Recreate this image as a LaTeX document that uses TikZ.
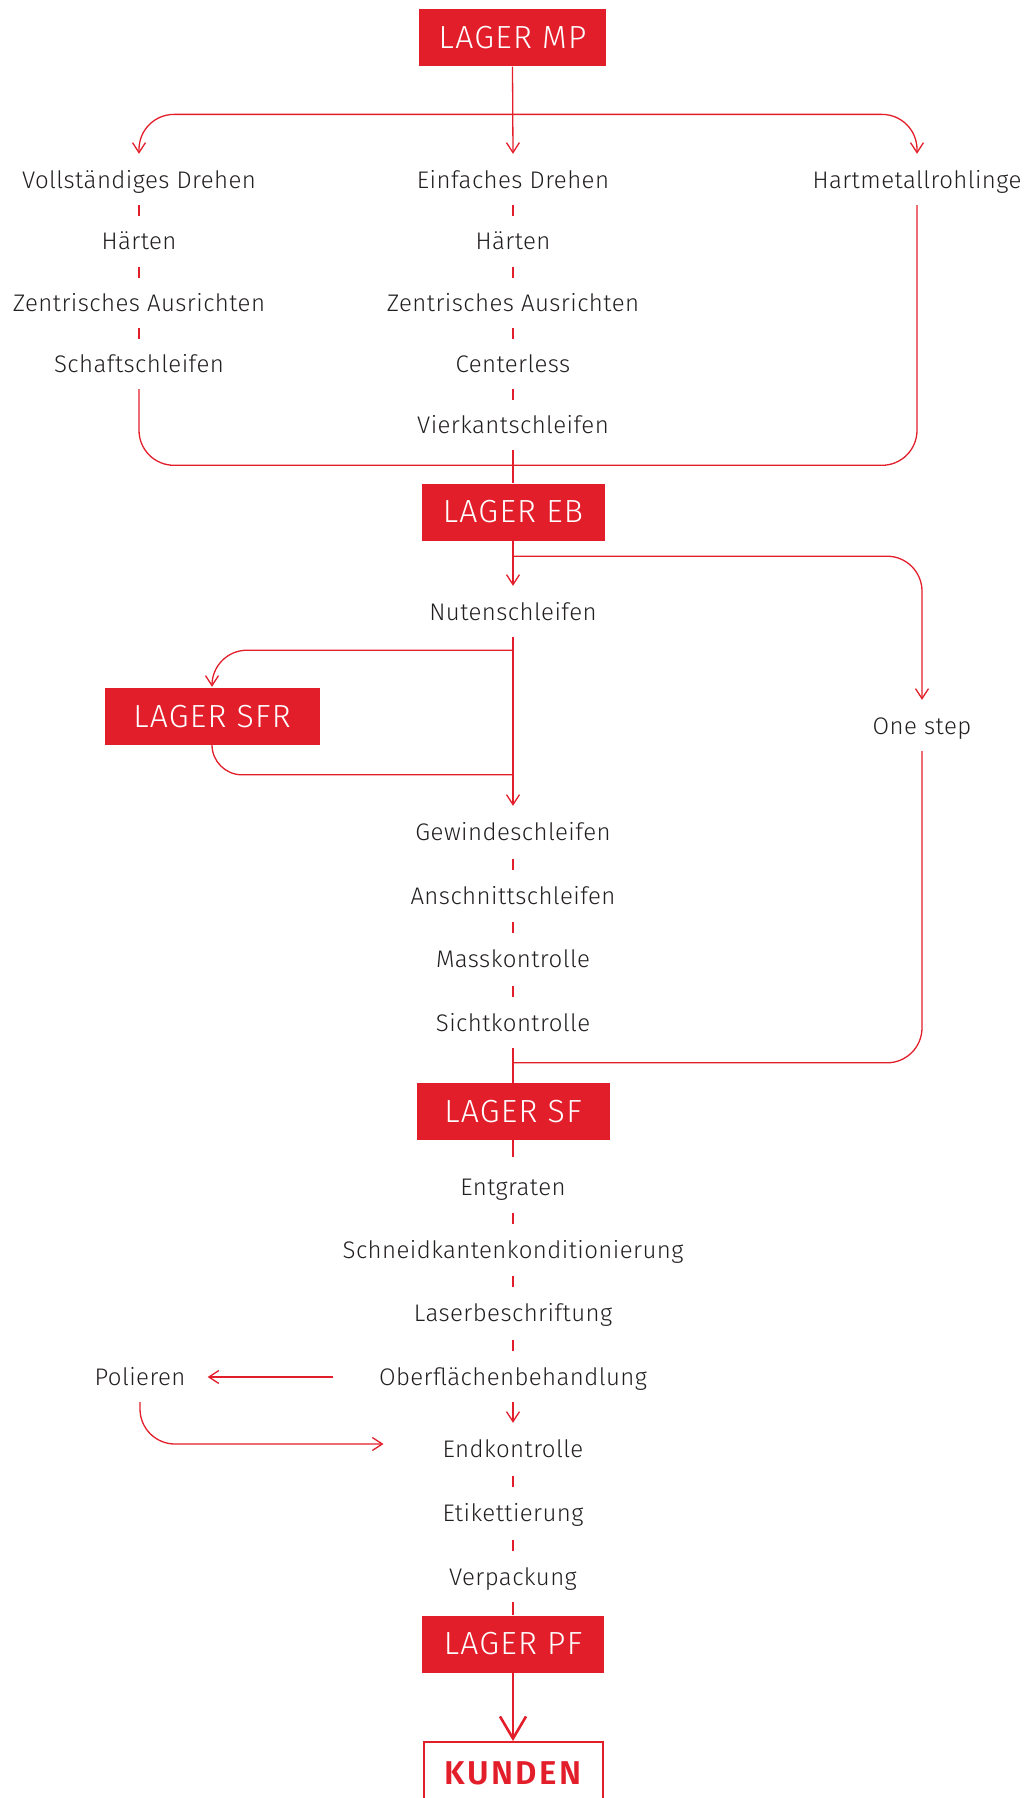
\documentclass[tikz,border=0pt]{standalone}
\usepackage{fontspec}
\setmainfont{Fira Sans Light}[BoldFont={Fira Sans SemiBold}]
\newfontfamily\lblfont{Fira Sans Light}[LetterSpace=1.8]
\newfontfamily\boxfont{Fira Sans Light}[LetterSpace=4]
\newfontfamily\kfont{Fira Sans SemiBold}[LetterSpace=7]
\usetikzlibrary{calc,arrows.meta}
\definecolor{brandred}{HTML}{E31E2B}
\definecolor{ink}{HTML}{231F20}
\newcommand\ticklink[2]{\draw[ln] ($(#1.south)!0.5!(#2.north)$) ++(0,-5.5) -- ++(0,11);}
\begin{document}
\begin{tikzpicture}[x=1pt,y=-1pt,
  lbl/.style={font=\lblfont\fontsize{24}{27}\selectfont, text=ink, inner xsep=0pt, inner ysep=0pt,
    text height=20pt, text depth=3pt, minimum height=50pt},
  box/.style={fill=brandred, text=white, font=\boxfont\fontsize{32}{36}\selectfont, inner xsep=0pt,
    inner ysep=0pt, minimum height=57pt},
  kbox/.style={draw=brandred, line width=2pt, text=brandred, font=\kfont\fontsize{33}{36}\selectfont,
    minimum width=179pt, minimum height=62pt, inner sep=0pt},
  ln/.style={draw=brandred, line width=1.3pt},
  arr/.style={ln, -{Straight Barb[length=10pt,width=13pt]}, shorten >=1pt},
  bigarr/.style={draw=brandred, line width=2.6pt, -{Straight Barb[length=22pt,width=26pt]}},
  rc/.style={rounded corners=35pt}]
\useasboundingbox (0,0) rectangle (1029,1798);

\node[box, minimum width=187pt] (mp) at (512.5,38) {LAGER MP};
\node[lbl] (voll) at (139,180) {Vollständiges Drehen};
\node[lbl] (ein) at (513,180) {Einfaches Drehen};
\node[lbl] (hart) at (917,180) {Hartmetallrohlinge};
\node[lbl] (h1) at (139,241) {Härten};
\node[lbl] (h2) at (513,241) {Härten};
\node[lbl] (z1) at (139,303) {Zentrisches Ausrichten};
\node[lbl] (z2) at (513,303) {Zentrisches Ausrichten};
\node[lbl] (schaft) at (139,364) {Schaftschleifen};
\node[lbl] (cless) at (513,364) {Centerless};
\node[lbl] (vier) at (513,425) {Vierkantschleifen};
\node[box, minimum width=183pt] (eb) at (513,512) {LAGER EB};
\node[lbl] (nut) at (513,612) {Nutenschleifen};
\node[lbl] (one) at (922,726) {One step};
\node[box, minimum width=215pt] (sfr) at (212,716.5) {LAGER SFR};
\node[lbl] (gew) at (513,832) {Gewindeschleifen};
\node[lbl] (an) at (513,896) {Anschnittschleifen};
\node[lbl] (mass) at (513,959) {Masskontrolle};
\node[lbl] (sicht) at (513,1023) {Sichtkontrolle};
\node[box, minimum width=193pt] (sf) at (513,1111.5) {LAGER SF};
\node[lbl] (ent) at (513,1187) {Entgraten};
\node[lbl] (schn) at (513,1250) {Schneidkantenkonditionierung};
\node[lbl] (laser) at (513,1313) {Laserbeschriftung};
\node[lbl] (ober) at (513,1377) {Oberflächenbehandlung};
\node[lbl] (pol) at (140,1377) {Polieren};
\node[lbl] (endk) at (513,1449) {Endkontrolle};
\node[lbl] (etik) at (513,1513) {Etikettierung};
\node[lbl] (verp) at (513,1577) {Verpackung};
\node[box, minimum width=182pt] (pf) at (513,1644) {LAGER PF};
\node[kbox] (kun) at (513,1773) {KUNDEN};

% top split
\draw[arr] (mp.south) -- (ein.north);
\coordinate (s1) at ($(mp.south)+(0,47.7)$);
\draw[arr, rc] (s1) -| (voll.north);
\draw[arr, rc] (s1) -| (hart.north);

\ticklink{voll}{h1}
\ticklink{h1}{z1}
\ticklink{z1}{schaft}
\ticklink{ein}{h2}
\ticklink{h2}{z2}
\ticklink{z2}{cless}
\ticklink{cless}{vier}

% merge into LAGER EB
\coordinate (j1) at ($(eb.north)+(0,-18)$);
\draw[ln] (vier.south) -- (eb.north);
\draw[ln, rc] (schaft.south) |- (j1);
\draw[ln, rc] (hart.south) |- (j1);

% LAGER EB
\draw[arr] (eb.south) -- (nut.north);
\coordinate (j2) at ($(eb.south)+(0,15.5)$);
\draw[arr, rc] (j2) -| (one.north);

% Nutenschleifen / SFR loop
\draw[arr] (nut.south) -- (gew.north);
\coordinate (j3) at ($(nut.south)+(0,13)$);
\draw[arr, rc] (j3) -| (sfr.north);
\coordinate (j4) at ($(gew.north)+(0,-32)$);
\draw[ln, rounded corners=30pt] (sfr.south) |- (j4);

\ticklink{gew}{an}
\ticklink{an}{mass}
\ticklink{mass}{sicht}

% merge into LAGER SF
\draw[ln] (sicht.south) -- (sf.north);
\coordinate (j5) at ($(sf.north)+(0,-20)$);
\draw[ln, rc] (one.south) |- (j5);

\draw[ln, shorten >=5pt] (sf.south) -- (ent.north);
\ticklink{ent}{schn}
\ticklink{schn}{laser}
\ticklink{laser}{ober}

\draw[arr] (ober.south) -- (endk.north);
\draw[arr, shorten <=46pt, shorten >=22pt] (ober.west) -- (pol.east |- ober.west);
\draw[arr, rc] (pol.south) |- ([xshift=-58pt,yshift=5pt]endk.west);

\ticklink{endk}{etik}
\ticklink{etik}{verp}
\draw[ln] (verp.south) -- (pf.north);
\draw[bigarr] (pf.south) -- (kun.north);
\end{tikzpicture}
\end{document}
